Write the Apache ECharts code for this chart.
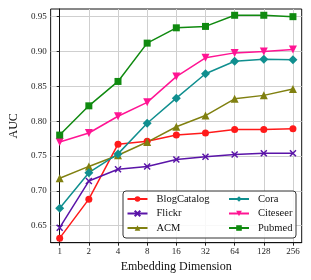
<!DOCTYPE html>
<html>
<head>
<meta charset="utf-8">
<script src="https://cdn.jsdelivr.net/npm/echarts@6/dist/echarts.min.js"></script>
<style>html,body{margin:0;padding:0;background:#fff}#c{width:311px;height:280px}</style>
</head>
<body>
<div id="c"></div>
<script>
const dims = ['1','2','4','8','16','32','64','128','256'];
const yTicks = [0.65,0.70,0.75,0.80,0.85,0.90,0.95];
const blogCatalog = [0.632,0.688,0.767,0.771,0.780,0.783,0.788,0.788,0.789];
const flickr = [0.647,0.714,0.731,0.735,0.745,0.749,0.752,0.754,0.754];
const acm = [0.718,0.735,0.751,0.770,0.792,0.808,0.832,0.837,0.846];
const cora = [0.675,0.726,0.753,0.797,0.833,0.868,0.886,0.889,0.888];
const citeseer = [0.770,0.783,0.807,0.827,0.864,0.891,0.898,0.900,0.903];
const pubmed = [0.780,0.822,0.857,0.912,0.934,0.936,0.952,0.952,0.950];

const FONT = "'Liberation Serif','DejaVu Serif',serif";
const xIdx = dims.map((d,i)=>i);
function pts(arr){ return arr.map((v,i)=>[i,v]); }

const specs = [
  {name:'BlogCatalog', data:blogCatalog, color:'#ff1a1a', symbol:'circle', size:7},
  {name:'Flickr', data:flickr, color:'#5a14a8', symbol:'path://M0,0L10,10M10,0L0,10', size:6, stroke:true},
  {name:'ACM', data:acm, color:'#808010', symbol:'triangle', size:8},
  {name:'Cora', data:cora, color:'#108f8f', symbol:'diamond', size:9},
  {name:'Citeseer', data:citeseer, color:'#ff1493', symbol:'path://M0,0L10,0L5,9Z', size:8},
  {name:'Pubmed', data:pubmed, color:'#108a10', symbol:'rect', size:7}
];

const series = specs.map(s=>({
  name:s.name, type:'line', data:pts(s.data),
  symbol:s.symbol, symbolSize:s.size, showSymbol:true,
  lineStyle:{color:s.color, width:1.5},
  itemStyle: s.stroke ? {color:s.color, borderColor:s.color, borderWidth:1.5} : {color:s.color, borderWidth:0},
  emphasis:{disabled:true}, animation:false
}));

const legendCommon = {
  orient:'vertical', itemWidth:20, itemHeight:7, itemGap:2.5,
  padding:0,
  textStyle:{fontFamily:FONT, fontSize:10.5, color:'#111', lineHeight:12, padding:[0,0,0,4]}
};

const chart = echarts.init(document.getElementById('c'), null, {renderer:'canvas'});
chart.setOption({
  animation:false,
  backgroundColor:'#fff',
  grid:{left:43, top:9, right:9.3, bottom:37.3, show:true, borderColor:'#111', borderWidth:1, containLabel:false},
  xAxis:{
    type:'value', min:-0.31, max:8.3,
    name:'Embedding Dimension', nameLocation:'middle', nameGap:6,
    nameTextStyle:{fontFamily:FONT, fontSize:12, color:'#111'},
    axisLine:{show:true, lineStyle:{color:'#111', width:1}},
    axisTick:{show:true, length:3, lineStyle:{color:'#222'}, customValues:xIdx},
    axisLabel:{fontFamily:FONT, fontSize:9, color:'#222', margin:4, customValues:xIdx, formatter:v=>dims[Math.round(v)]},
    splitLine:{show:true, lineStyle:{color:'#cfcfcf', width:1}}
  },
  yAxis:{
    type:'value', min:0.6255, max:0.961,
    name:'AUC', nameLocation:'middle', nameGap:23, nameRotate:90,
    nameTextStyle:{fontFamily:FONT, fontSize:12, color:'#111'},
    axisLine:{show:true, lineStyle:{color:'#111', width:1}},
    axisTick:{show:true, length:3, lineStyle:{color:'#222'}, customValues:yTicks},
    axisLabel:{fontFamily:FONT, fontSize:9, color:'#222', margin:4, customValues:yTicks, formatter:v=>v.toFixed(2)},
    splitLine:{show:true, lineStyle:{color:'#cfcfcf', width:1}}
  },
  graphic:[{
    type:'rect', left:122.5, top:190.5, z:50,
    shape:{width:173, height:47, r:3},
    style:{fill:'rgba(255,255,255,0.85)', stroke:'#333', lineWidth:1}
  }],
  legend:[
    Object.assign({}, legendCommon, {left:126.5, top:193, z:60, data:['BlogCatalog','Flickr','ACM']}),
    Object.assign({}, legendCommon, {left:228, top:193, z:60, data:['Cora','Citeseer','Pubmed']})
  ],
  series:series
});
</script>
</body>
</html>
